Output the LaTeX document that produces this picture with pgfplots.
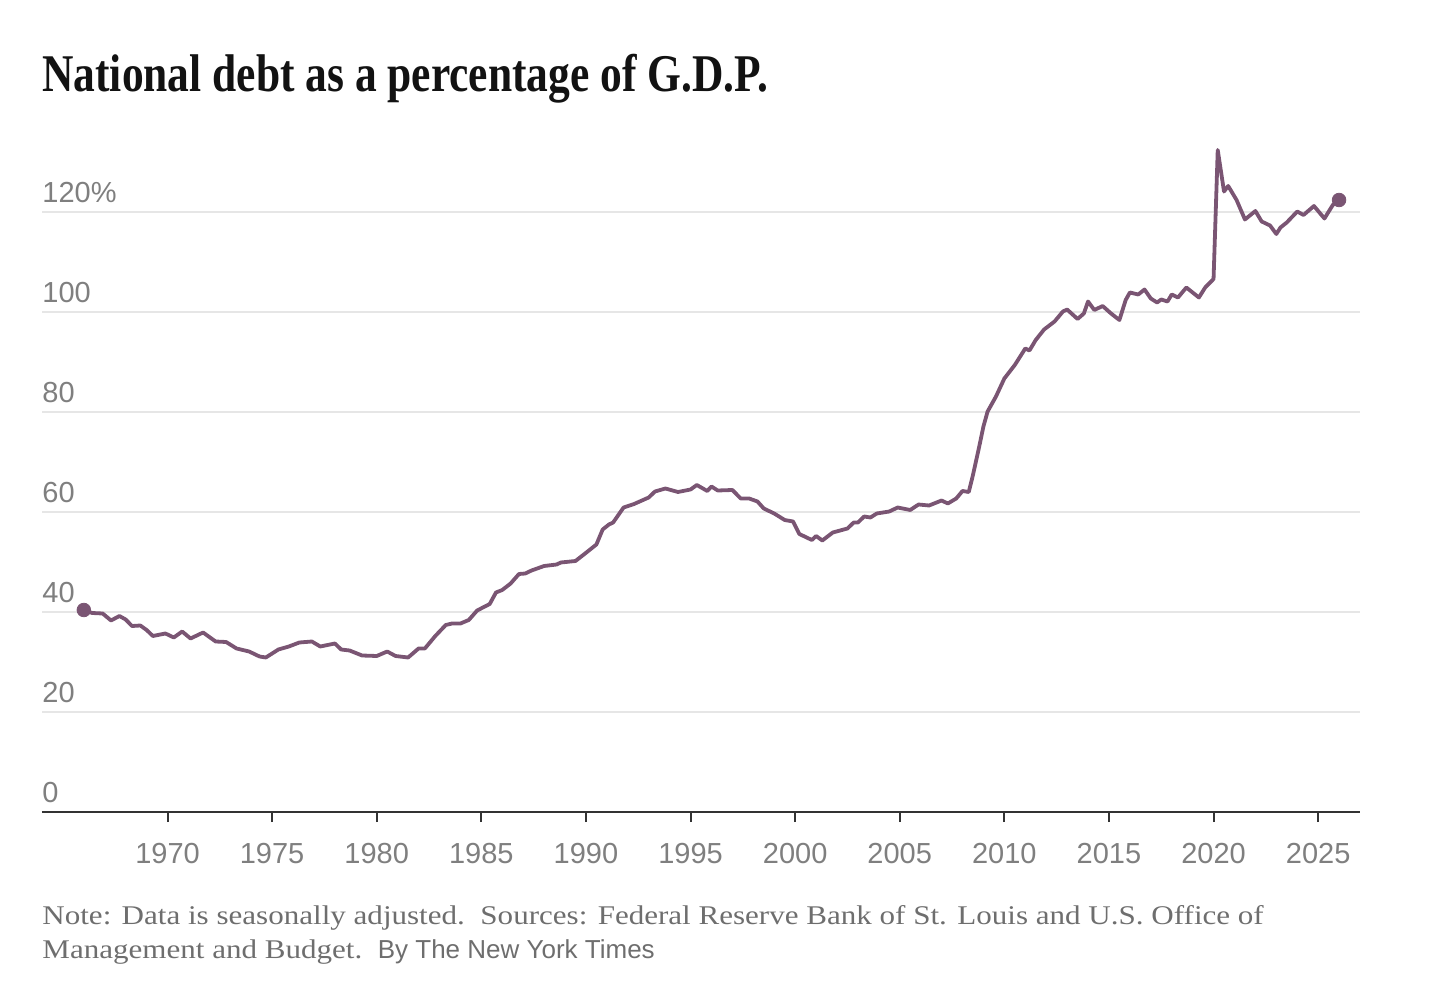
\documentclass[border=0pt]{standalone}
\usepackage{fontspec}
\usepackage{pgfplots}
\pgfplotsset{compat=1.18}
\setmainfont{Liberation Serif}
\newfontfamily\titlefont{Liberation Serif}[FakeStretch=0.82]
\newfontfamily\tickfont{Liberation Sans}
\newfontfamily\notefont{Liberation Serif}[FakeStretch=1.15]
\newfontfamily\bylinefont{Liberation Sans}
\definecolor{linec}{HTML}{7A5573}
\definecolor{gridc}{HTML}{E6E6E6}
\definecolor{axisc}{HTML}{333333}
\definecolor{tickc}{HTML}{7F7F7F}
\definecolor{notec}{HTML}{6E6E6E}
\definecolor{titlec}{HTML}{121212}
\begin{document}
\begin{tikzpicture}
\path[use as bounding box] (-21bp,-94bp) rectangle (705bp,406bp);
\begin{axis}[
  at={(0,0)}, anchor=origin,
  scale only axis,
  width=659bp, height=337.5bp,
  xmin=1964, xmax=2027,
  ymin=0, ymax=135,
  axis x line=bottom,
  axis y line=left,
  x axis line style={-, color=axisc, line width=1.2bp},
  y axis line style={draw=none},
  xtick={1970,1975,1980,1985,1990,1995,2000,2005,2010,2015,2020,2025},
  xticklabels={1970,1975,1980,1985,1990,1995,2000,2005,2010,2015,2020,2025},
  ytick={0,20,40,60,80,100,120},
  yticklabels={0,20,40,60,80,100,120\%},
  tick align=outside,
  major tick length=5bp,
  x tick style={color=axisc, line width=1bp},
  y tick style={draw=none},
  ymajorgrids,
  grid style={color=gridc, line width=0.8bp},
  xticklabel style={font=\tickfont\fontsize{14.5bp}{17bp}\selectfont, text=tickc, anchor=north, inner sep=0pt, yshift=-10.5bp},
  yticklabel style={font=\tickfont\fontsize{14.5bp}{17bp}\selectfont, text=tickc, anchor=south west, inner sep=0pt, xshift=5bp, yshift=4.5bp},
  clip=false,
]
\addplot[color=linec, line width=1.9bp, line join=round, no marks] coordinates {
(1966.0,40.4) (1966.4,39.8) (1966.9,39.7) (1967.3,38.3) (1967.7,39.2) (1968.0,38.5)
(1968.3,37.2) (1968.7,37.3) (1969.0,36.4) (1969.3,35.2) (1969.9,35.7) (1970.3,34.9)
(1970.7,36.1) (1971.1,34.7) (1971.7,35.9) (1972.3,34.1) (1972.8,34.0) (1973.3,32.7)
(1973.9,32.1) (1974.4,31.1) (1974.7,30.9) (1975.3,32.5) (1975.8,33.1) (1976.3,33.9)
(1976.9,34.1) (1977.3,33.1) (1978.0,33.7) (1978.3,32.5) (1978.7,32.3) (1979.3,31.3)
(1980.0,31.2) (1980.5,32.1) (1980.9,31.2) (1981.5,30.9) (1982.0,32.7) (1982.3,32.7)
(1982.8,35.2) (1983.3,37.4) (1983.6,37.7) (1984.0,37.7) (1984.4,38.4) (1984.8,40.3)
(1985.4,41.6) (1985.7,43.9) (1986.0,44.4) (1986.4,45.7) (1986.8,47.6) (1987.1,47.7)
(1987.4,48.3) (1988.0,49.2) (1988.6,49.5) (1988.8,49.9) (1989.5,50.2) (1989.9,51.5)
(1990.5,53.5) (1990.8,56.5) (1991.1,57.5) (1991.3,57.9) (1991.8,60.9) (1992.3,61.6)
(1993.0,62.9) (1993.3,64.1) (1993.8,64.7) (1994.4,64.0) (1995.0,64.5) (1995.3,65.4)
(1995.8,64.2) (1996.0,65.1) (1996.3,64.3) (1997.0,64.4) (1997.4,62.7) (1997.8,62.7)
(1998.2,62.1) (1998.5,60.7) (1999.0,59.7) (1999.5,58.4) (1999.9,58.1) (2000.2,55.6)
(2000.8,54.4) (2001.0,55.2) (2001.3,54.3) (2001.8,55.9) (2002.5,56.7) (2002.8,57.9)
(2003.0,57.9) (2003.3,59.1) (2003.6,58.9) (2003.9,59.7) (2004.5,60.1) (2004.9,60.9)
(2005.5,60.4) (2005.9,61.5) (2006.4,61.3) (2007.0,62.3) (2007.3,61.7) (2007.7,62.7)
(2008.0,64.2) (2008.3,64.0) (2008.5,67.4) (2008.8,73.1) (2009.0,77.1) (2009.2,80.1)
(2009.6,83.1) (2010.0,86.7) (2010.5,89.4) (2011.0,92.7) (2011.2,92.3) (2011.5,94.4)
(2011.9,96.5) (2012.4,98.1) (2012.8,100.1) (2013.0,100.5) (2013.5,98.6) (2013.8,99.7)
(2014.0,102.1) (2014.3,100.4) (2014.7,101.2) (2015.1,99.7) (2015.5,98.4) (2015.8,102.4)
(2016.0,103.9) (2016.4,103.5) (2016.7,104.5) (2017.0,102.7) (2017.3,101.9) (2017.5,102.5)
(2017.8,102.1) (2018.0,103.5) (2018.3,102.9) (2018.7,104.9) (2019.3,102.9) (2019.6,104.9)
(2020.0,106.6) (2020.2,132.4) (2020.5,124.1) (2020.7,125.2) (2021.1,122.4) (2021.5,118.5)
(2022.0,120.2) (2022.3,118.1) (2022.7,117.3) (2023.0,115.6) (2023.2,116.9) (2023.5,117.9)
(2024.0,120.1) (2024.3,119.4) (2024.8,121.2) (2025.3,118.7) (2025.7,121.4) (2026.0,122.4)
};
\addplot[only marks, mark=*, mark size=3.4bp, color=linec, fill=linec] coordinates {
(1966.0,40.4) (2026.0,122.4)
};
\end{axis}
\node[anchor=base west, inner sep=0pt, text=titlec, font=\titlefont\bfseries\fontsize{26.5bp}{30bp}\selectfont] at (0bp,360bp) {National debt as a percentage of G.D.P.};
\node[anchor=base west, inner sep=0pt, text=notec, font=\notefont\fontsize{13.5bp}{17bp}\selectfont] at (0bp,-56bp) {Note: Data is seasonally adjusted.\ \ Sources: Federal Reserve Bank of St. Louis and U.S. Office of};
\node[anchor=base west, inner sep=0pt, text=notec, font=\notefont\fontsize{13.5bp}{17bp}\selectfont] at (0bp,-73bp) {Management and Budget.\ \ {\bylinefont\fontsize{13bp}{17bp}\selectfont By The New York Times}};
\end{tikzpicture}
\end{document}
